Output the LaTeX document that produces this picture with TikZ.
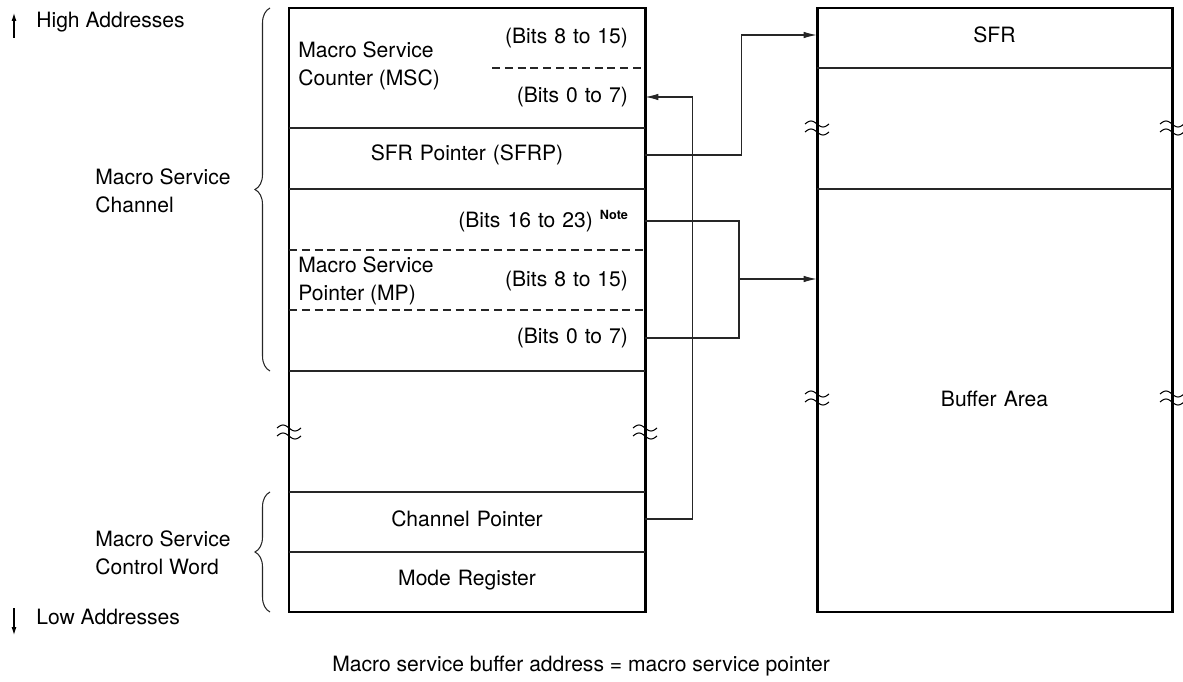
\documentclass[tikz,border=0pt]{standalone}
\usepackage{fontspec}
\setmainfont{TeX Gyre Heros}
\usetikzlibrary{arrows.meta,decorations.pathreplacing,positioning}

\tikzset{
  box/.style={line width=1.7pt},
  rowline/.style={line width=0.6pt, black!85},
  dashline/.style={line width=0.6pt, black!85, dash pattern=on 4.5pt off 2.8pt},
  link/.style={line width=0.6pt, black!85},
  brk/.style={line width=0.6pt},
  lbl/.style={inner sep=0pt, font=\fontsize{12}{15.9}\selectfont},
  row/.style={lbl, minimum width=7.12cm, text width=6.44cm},
  addr/.style={line width=0.6pt, -{Latex[length=1.6mm,width=1mm]}},
  >={Latex[length=2.6mm,width=1.3mm]}
}

% 断裂符号
\newcommand\brkmark[2]{%
  \foreach \d in {-4,4}
    \draw[brk, shift={(#1,{#2+\d})}] plot[domain=-12:12, samples=25, smooth] (\x, {3*sin(\x*15)});
}

\begin{document}
\begin{tikzpicture}[x=0.02cm, y=-0.02cm]
\useasboundingbox (0,0) rectangle (1183,682);

% ========= 左框：宏服务通道 =========
\draw[box] (289,8) rectangle (645,612);

% 分隔线
\foreach \y in {128,189,371,492,552}
  \draw[rowline] (289,\y) -- (645,\y);
\draw[dashline] (492,68) -- (645,68);
\foreach \y in {250,310}
  \draw[dashline] (289,\y) -- (645,\y);

% 各行文字
\node[lbl, anchor=west, align=left] (msc) at (298,66) {Macro Service\\Counter (MSC)};
\node[row, align=right] (mschi) at (467,38) {(Bits 8 to 15)};
\node[row, align=right] (msclo) at (467,97) {(Bits 0 to 7)};
\node[row, align=center] (sfrp) at (467,155) {SFR Pointer (SFRP)};
\node[row, align=right] (mpx) at (467,221)
  {(Bits 16 to 23) \raisebox{4.5pt}{\fontsize{7.2}{8}\bfseries Note}};
\node[lbl, anchor=west, align=left] (mp) at (298,281) {Macro Service\\Pointer (MP)};
\node[row, align=right] (mphi) at (467,281) {(Bits 8 to 15)};
\node[row, align=right] (mplo) at (467,338) {(Bits 0 to 7)};
\node[row, align=center] (chp) at (467,519) {Channel Pointer};
\node[row, align=center] (modereg) at (467,580) {Mode Register};

\brkmark{289}{432}
\brkmark{645}{432}

% ========= 右框：SFR 与缓冲区 =========
\draw[box] (817,8) rectangle (1172,612);
\foreach \y in {68,189}
  \draw[rowline] (817,\y) -- (1172,\y);
\node[row, minimum width=7.1cm, align=center] (sfr) at (994.5,35) {SFR};
\node[row, minimum width=7.1cm, align=center] (buffer) at (994.5,399) {Buffer Area};

\brkmark{817}{128}
\brkmark{1172}{128}
\brkmark{817}{398}
\brkmark{1172}{398}

% ========= 连线 =========
\draw[link, ->] (sfrp.east) -- ++(96,0) |- (sfr.west);
\draw[link, ->] (chp.east) -- ++(47,0) |- (msclo.east);
\coordinate (mpj) at (739,279);
\draw[link] (mpx.east) -| (mpj) |- (mplo.east);
\draw[link, ->] (mpj) -- (mpj -| buffer.west);

% ========= 左侧括号与说明 =========
\draw[link, decorate, decoration={brace, amplitude=0.3cm}] (270,371) -- (270,8);
\draw[link, decorate, decoration={brace, amplitude=0.3cm}] (270,612) -- (270,492);
\node[lbl, anchor=west, align=left] (chan) at (95,191) {Macro Service\\Channel};
\node[lbl, anchor=west, align=left] (ctrl) at (95,553) {Macro Service\\Control Word};

% 地址方向
\node[lbl, anchor=west] (hiaddr) at (36,22) {High Addresses};
\node[lbl, anchor=west] (loaddr) at (36,617) {Low Addresses};
\draw[addr] (14,38) -- (14,13);
\draw[addr] (14,608) -- (14,635);

% 底部说明
\node[lbl, anchor=west] (note) at (332,666) {Macro service buffer address = macro service pointer};
\end{tikzpicture}
\end{document}
